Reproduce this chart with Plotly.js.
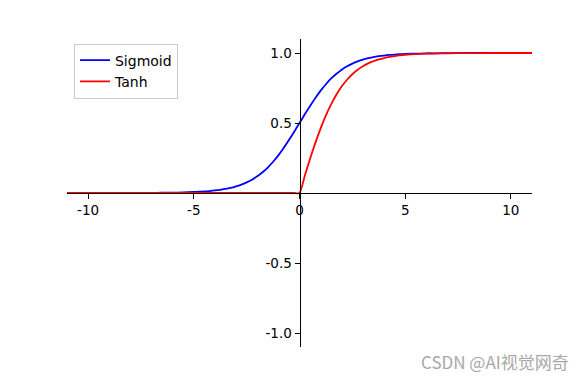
<!DOCTYPE html>
<html>
<head>
<meta charset="utf-8">
<script src="https://cdn.plot.ly/plotly-3.0.1.min.js"></script>
<style>html,body{margin:0;padding:0;background:#fff;}#chart{width:586px;height:379px;}</style>
</head>
<body>
<div id="chart"></div>
<script>
const xValues = [-11,-10,-9,-8,-7,-6.5,-6,-5.5,-5,-4.75,-4.5,-4.25,-4,-3.75,-3.5,-3.25,-3,-2.75,-2.5,-2.25,-2,-1.75,-1.5,-1.25,-1,-0.75,-0.5,-0.25,0,0.25,0.5,0.75,1,1.25,1.5,1.75,2,2.25,2.5,2.75,3,3.25,3.5,3.75,4,4.25,4.5,4.75,5,5.5,6,6.5,7,8,9,10,11];
const sigmoidValues = [0,0,0,0,0.001,0.002,0.002,0.004,0.007,0.009,0.011,0.014,0.018,0.023,0.029,0.037,0.047,0.060,0.076,0.095,0.119,0.148,0.182,0.223,0.269,0.321,0.378,0.438,0.500,0.562,0.622,0.679,0.731,0.777,0.818,0.852,0.881,0.905,0.924,0.940,0.953,0.963,0.971,0.977,0.982,0.986,0.989,0.991,0.993,0.996,0.998,0.998,0.999,1,1,1,1];
const tanhValues = [0,0,0,0,0,0,0,0,0,0,0,0,0,0,0,0,0,0,0,0,0,0,0,0,0,0,0,0,0,0.124,0.245,0.358,0.462,0.555,0.635,0.704,0.762,0.809,0.848,0.880,0.905,0.926,0.942,0.954,0.964,0.972,0.978,0.983,0.987,0.992,0.995,0.997,0.998,0.999,1,1,1];
const seriesNames = ["Sigmoid", "Tanh"];
const xTickVals = [-10,-5,0,5,10];
const xTickText = ["-10","-5","0","5","10"];
const yTickVals = [-1,-0.5,0.5,1];
const yTickText = ["-1.0","-0.5","0.5","1.0"];

const fontFam = "DejaVu Sans, sans-serif";
const traces = [
  {x: xValues, y: sigmoidValues, name: seriesNames[0], mode: "lines", line: {color: "#0000ff", width: 1.8, shape: "spline", smoothing: 0.8}},
  {x: xValues, y: tanhValues, name: seriesNames[1], mode: "lines", line: {color: "#ff0000", width: 1.8, shape: "spline", smoothing: 0.6}}
];
const layout = {
  width: 586, height: 379,
  margin: {l: 67, r: 54, t: 39, b: 32, pad: 0},
  paper_bgcolor: "#fff", plot_bgcolor: "#fff",
  font: {family: fontFam, size: 13, color: "#000"},
  showlegend: true,
  legend: {x: 0.015, y: 0.985, xanchor: "left", yanchor: "top", bgcolor: "rgba(255,255,255,0.8)", bordercolor: "#cccccc", borderwidth: 1, font: {family: fontFam, size: 14, color: "#000"}, itemwidth: 30, tracegroupgap: 0},
  xaxis: {range: [-11, 11], anchor: "free", position: 0.5, showline: true, linecolor: "#000", linewidth: 1, showgrid: false, zeroline: false, ticks: "outside", ticklen: 5, tickwidth: 1, tickcolor: "#000", tickvals: xTickVals, ticktext: xTickText, tickfont: {size: 13.5}, fixedrange: true},
  yaxis: {range: [-1.1, 1.1], anchor: "free", position: 0.5, showline: true, linecolor: "#000", linewidth: 1, showgrid: false, zeroline: false, ticks: "outside", ticklen: 5, tickwidth: 1, tickcolor: "#000", tickvals: yTickVals, ticktext: yTickText, tickfont: {size: 13.5}, fixedrange: true},
  annotations: [{text: "CSDN @AI视觉网奇", xref: "paper", yref: "paper", x: 1.0838, y: -0.047, xanchor: "right", yanchor: "middle", showarrow: false, font: {family: "Noto Sans CJK SC, sans-serif", size: 17, color: "#a8a8a8"}}]
};
Plotly.newPlot("chart", traces, layout, {displayModeBar: false, staticPlot: true});
</script>
</body>
</html>
